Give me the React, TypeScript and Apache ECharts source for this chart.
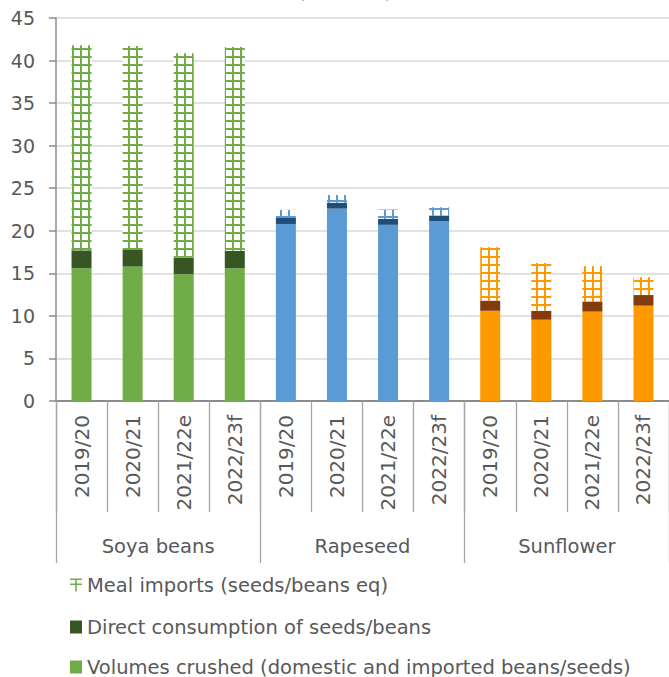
import React, { useEffect, useRef } from "react";
import * as echarts from "echarts";

const categories = [
  "2019/20", "2020/21", "2021/22e", "2022/23f",
  "2019/20", "2020/21", "2021/22e", "2022/23f",
  "2019/20", "2020/21", "2021/22e", "2022/23f",
];
const groups = ["Soya beans", "Rapeseed", "Sunflower"];
const volumesCrushed = [15.6, 15.8, 14.9, 15.6, 20.8, 22.6, 20.7, 21.1, 10.6, 9.55, 10.5, 11.2];
const directConsumption = [2.1, 1.95, 1.95, 2.05, 0.7, 0.7, 0.7, 0.7, 1.2, 1.05, 1.2, 1.25];
const mealImports = [24.1, 23.95, 24.0, 23.95, 0.95, 0.9, 1.1, 0.95, 6.25, 5.6, 4.15, 2.1];
const seriesNames = [
  "Meal imports (seeds/beans eq)",
  "Direct consumption of seeds/beans",
  "Volumes crushed (domestic and imported beans/seeds)",
];
const crushedColors = ["#70AD47", "#5B9BD5", "#FF9900"];
const directColors = ["#375623", "#1F4E79", "#843C0C"];
const unitLabel = "(million t)";

const FONT = "DejaVu Sans";
const TEXT = "#595959";

function makePattern(color: string) {
  const c = document.createElement("canvas");
  c.width = 8;
  c.height = 8;
  const ctx = c.getContext("2d")!;
  ctx.fillStyle = "#ffffff";
  ctx.fillRect(0, 0, 8, 8);
  ctx.fillStyle = color;
  ctx.fillRect(0, 0, 8, 2);
  ctx.fillRect(0, 0, 2, 8);
  return { image: c.toDataURL(), repeat: "repeat", imageWidth: 8, imageHeight: 8 } as any;
}

export default function App() {
  const ref = useRef<HTMLDivElement>(null);
  useEffect(() => {
    if (!ref.current) return;
    const chart = echarts.init(ref.current, null, { renderer: "svg" });
    const patterns = crushedColors.map(makePattern);
    const grp = (i: number) => Math.floor(i / 4);
    const legendItems = [
      {
        name: seriesNames[0],
        icon: "path://M0,0H12V1.6H0Z M0,5H12V6.6H0Z M5.2,0H6.8V13H5.2Z",
        itemStyle: { color: "#70AD47" },
      },
      { name: seriesNames[1], icon: "rect", itemStyle: { color: "#375623" } },
      { name: seriesNames[2], icon: "rect", itemStyle: { color: "#70AD47" } },
    ];
    const legendTops = [575, 617, 657];
    const option: any = {
      animation: false,
      textStyle: { fontFamily: FONT },
      grid: { left: 56, top: 18, width: 615, height: 383 },
      graphic: [
        {
          type: "text",
          x: 345,
          y: -9,
          style: {
            text: unitLabel,
            fontFamily: FONT,
            fontSize: 19.5,
            fill: TEXT,
            textAlign: "center",
            textVerticalAlign: "middle",
          },
        },
      ],
      legend: legendItems.map((it, k) => ({
        orient: "horizontal",
        left: 70,
        top: legendTops[k],
        padding: 0,
        itemWidth: 12,
        itemHeight: 13,
        textStyle: { fontFamily: FONT, fontSize: 19.5, color: TEXT, lineHeight: 20 },
        data: [it],
      })),
      xAxis: [
        {
          type: "category",
          data: categories,
          position: "bottom",
          axisLine: { show: true, lineStyle: { color: "#8C8C8C", width: 2 } },
          axisTick: {
            show: true,
            interval: 0,
            length: 111,
            lineStyle: { color: "#A6A6A6", width: 1.3 },
          },
          axisLabel: {
            interval: 0,
            rotate: 90,
            margin: 14,
            fontFamily: FONT,
            fontSize: 20,
            color: TEXT,
          },
        },
        {
          type: "category",
          data: groups,
          position: "bottom",
          axisLine: { show: false },
          axisTick: {
            show: true,
            interval: 0,
            length: 162,
            lineStyle: { color: "#A6A6A6", width: 1.3 },
          },
          axisLabel: {
            interval: 0,
            margin: 135,
            fontFamily: FONT,
            fontSize: 19.5,
            color: TEXT,
          },
          splitLine: { show: false },
        },
      ],
      yAxis: {
        type: "value",
        min: 0,
        max: 45,
        interval: 5,
        axisLine: { show: true, lineStyle: { color: "#8C8C8C", width: 1.5 } },
        axisTick: { show: true, length: 7, lineStyle: { color: "#8C8C8C", width: 1.5 } },
        axisLabel: { fontFamily: FONT, fontSize: 19, color: TEXT, margin: 21 },
        splitLine: { lineStyle: { color: "#D9D9D9", width: 1.5 } },
      },
      series: [
        {
          name: seriesNames[2],
          type: "bar",
          stack: "total",
          barWidth: 20,
          xAxisIndex: 0,
          itemStyle: { color: "#70AD47" },
          data: volumesCrushed.map((v, i) => ({ value: v, itemStyle: { color: crushedColors[grp(i)] } })),
        },
        {
          name: seriesNames[1],
          type: "bar",
          stack: "total",
          barWidth: 20,
          xAxisIndex: 0,
          itemStyle: { color: "#375623" },
          data: directConsumption.map((v, i) => ({ value: v, itemStyle: { color: directColors[grp(i)] } })),
        },
        {
          name: seriesNames[0],
          type: "bar",
          stack: "total",
          barWidth: 20,
          xAxisIndex: 0,
          itemStyle: { color: "#70AD47" },
          data: mealImports.map((v, i) => ({ value: v, itemStyle: { color: patterns[grp(i)] } })),
        },
      ],
    };
    chart.setOption(option);
    return () => chart.dispose();
  }, []);
  return (
    <div
      ref={ref}
      style={{ position: "absolute", left: 0, top: 0, width: 669, height: 677, background: "#fff" }}
    />
  );
}
